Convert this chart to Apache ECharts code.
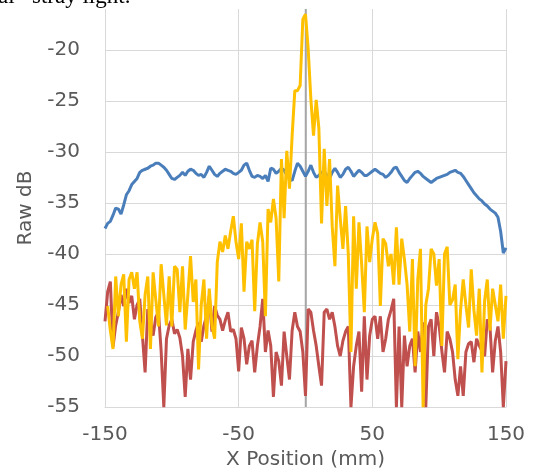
<!DOCTYPE html>
<html>
<head>
<meta charset="utf-8">
<script src="https://cdn.jsdelivr.net/npm/echarts@6/dist/echarts.min.js"></script>
<style>
html,body{margin:0;padding:0;background:#fff;}
#chart{width:539px;height:475px;}
</style>
</head>
<body>
<div id="chart"></div>
<script>
// Sampling grid of X positions (mm)
const X_START = -150;
const X_STEP = 2;

const xTickLabels = [-150, -50, 50, 150];
const yTickLabels = [-55, -50, -45, -40, -35, -30, -25, -20];

// Blue series (Raw dB)
const blueValues = [
-37.5,-37.0,-36.8,-36.2,-35.5,-35.6,-36.1,-35.2,-34.2,-33.8,
-33.2,-32.9,-32.6,-32.0,-31.8,-31.7,-31.6,-31.4,-31.3,-31.1,
-31.1,-31.3,-31.5,-31.8,-32.2,-32.6,-32.7,-32.5,-32.3,-32.0,
-32.3,-31.9,-31.7,-31.8,-32.1,-32.3,-32.2,-32.5,-32.0,-31.4,
-31.8,-32.2,-32.4,-32.1,-31.9,-31.7,-31.8,-31.9,-32.1,-32.2,
-32.0,-31.8,-31.3,-31.1,-31.8,-32.4,-32.5,-32.3,-32.4,-32.6,
-32.3,-32.9,-31.6,-31.7,-32.1,-31.9,-31.6,-31.8,-32.3,-32.6,
-32.8,-31.9,-31.1,-31.4,-31.9,-32.4,-31.9,-31.3,-32.0,-32.5,
-32.3,-32.0,-31.9,-32.3,-32.6,-32.0,-31.6,-32.0,-32.5,-32.2,
-31.7,-31.5,-31.9,-32.4,-32.1,-31.8,-32.0,-32.3,-32.3,-32.1,
-31.9,-31.7,-31.9,-32.1,-32.2,-32.5,-32.3,-32.0,-31.6,-31.5,
-32.0,-32.4,-32.8,-33.0,-32.6,-32.3,-32.0,-31.9,-32.1,-32.4,
-32.6,-32.8,-33.0,-32.8,-32.6,-32.5,-32.4,-32.3,-32.2,-32.0,
-31.9,-31.8,-32.0,-32.1,-32.4,-32.8,-33.2,-33.6,-34.0,-34.3,
-34.6,-34.8,-35.1,-35.3,-35.6,-35.8,-36.0,-36.4,-37.8,-39.9,
-39.4
];

// Yellow series (Raw dB)
const yellowValues = [
null,
-45.1,-47.5,-49.3,-42.2,-46.1,-43.0,-42.0,-48.6,-42.5,
-41.8,-43.4,-41.8,-46.6,-48.3,-44.0,-42.2,-49.3,-41.8,-44.5,
-47.1,-41.0,-44.0,-47.0,-42.2,-47.1,-41.2,-41.5,-45.7,-41.2,
-47.4,-44.0,-40.2,-44.7,-42.5,-51.3,-45.0,-42.5,-48.3,-43.4,
-47.0,-48.3,-40.8,-38.8,-39.8,-38.2,-39.5,-37.8,-36.3,-38.8,
-40.5,-37.0,-43.7,-38.8,-39.5,-38.6,-45.6,-39.0,-36.9,-38.8,
-46.1,-35.6,-36.9,-34.6,-36.5,-42.7,-30.7,-36.5,-29.9,-33.6,
-28.4,-24.0,-24.0,-23.5,-17.0,-16.5,-19.9,-24.8,-28.4,-24.9,
-27.7,-37.0,-29.7,-35.3,-30.7,-37.3,-41.2,-33.3,-36.5,-39.5,
-35.3,-40.0,-49.6,-36.3,-43.4,-36.9,-41.0,-45.7,-37.3,-40.8,
-38.5,-36.9,-38.0,-45.1,-38.5,-39.0,-41.2,-40.0,-43.0,-37.4,
-43.0,-38.5,-40.5,-43.0,-47.6,-40.5,-51.0,-42.5,-39.5,-55.0,
-45.0,-43.4,-39.5,-40.0,-43.1,-40.5,-49.0,-40.0,-39.3,-45.0,
-44.5,-43.0,-50.3,-45.5,-42.5,-45.0,-47.2,-41.5,-45.5,-48.0,
-43.4,-51.6,-44.6,-42.5,-47.5,-43.4,-45.0,-46.6,-43.0,-48.3,
-44.1
];

// Red series (Raw dB)
const redValues = [
-46.6,-43.7,-42.7,-49.1,-47.0,-45.7,-44.0,-45.1,-43.4,-44.8,
-44.1,-46.4,-45.0,-44.4,-48.0,-51.6,-45.4,-46.5,-48.0,-46.2,
-45.7,-49.5,-55.0,-48.3,-47.0,-46.4,-47.8,-47.4,-48.2,-50.0,
-54.0,-49.3,-52.3,-48.6,-47.5,-46.7,-48.6,-47.0,-46.1,-44.1,
-47.6,-45.1,-46.0,-46.4,-47.5,-46.5,-45.7,-47.6,-47.4,-48.3,
-51.5,-47.2,-48.3,-50.8,-49.0,-48.5,-51.6,-49.0,-47.1,-44.4,
-49.6,-47.5,-49.0,-54.0,-49.6,-50.5,-52.9,-47.6,-50.0,-52.3,
-47.5,-45.7,-47.1,-47.6,-49.6,-53.9,-45.4,-45.7,-47.5,-49.0,
-51.0,-52.9,-45.7,-45.4,-46.4,-45.7,-47.1,-49.0,-50.0,-48.5,
-47.6,-47.1,-55.0,-51.0,-49.0,-47.6,-53.5,-46.1,-52.3,-48.0,
-46.4,-46.1,-48.3,-46.1,-49.6,-48.3,-46.4,-45.5,-44.4,-55.0,
-47.1,-55.0,-48.0,-51.0,-49.0,-48.3,-51.6,-47.6,-49.6,-46.7,
-55.0,-47.1,-46.4,-50.0,-45.7,-47.1,-49.5,-51.6,-47.6,-48.3,
-49.6,-52.3,-53.9,-51.0,-53.9,-49.6,-48.8,-48.6,-50.6,-48.3,
-49.0,-49.5,-50.0,-46.4,-47.1,-51.6,-48.5,-47.1,-49.6,-55.0,
-50.5
];

// Vertical axis crossing position (mm)
const crossX = 0;

function pairs(vals){
  return vals.map((v,i)=>[X_START + i*X_STEP, v]);
}

const FONT = '"DejaVu Sans", "Noto Sans", sans-serif';
const TXT = '#595959';
const GRID = '#d9d9d9';
const ZERO = '#a6a6a6';
const SERIF = '23px "Liberation Serif", "DejaVu Serif", serif';

const chart = echarts.init(document.getElementById('chart'), null, {renderer:'canvas'});
const xMin = xTickLabels[0];
const xMax = xTickLabels[xTickLabels.length-1];
const yMin = yTickLabels[0];
const yMax = -16;

chart.setOption({
  animation:false,
  backgroundColor:'#ffffff',
  grid:{left:105, right:33, top:9, bottom:67, containLabel:false},
  graphic:[
    {type:'text', x:-2, y:-15, z:100,
     style:{text:'al', font:SERIF, fill:'#000', verticalAlign:'top'}},
    {type:'text', x:32, y:-15, z:100,
     style:{text:'stray light.', font:SERIF, fill:'#000', verticalAlign:'top'}}
  ],
  xAxis:[{
    type:'value', min:xMin, max:xMax, interval:100,
    name:'X Position (mm)', nameLocation:'middle', nameGap:41,
    nameTextStyle:{fontFamily:FONT, fontSize:20, color:TXT},
    axisLine:{show:true, lineStyle:{color:GRID, width:1}},
    axisTick:{show:false},
    axisLabel:{fontFamily:FONT, fontSize:20, color:TXT, margin:18},
    splitLine:{show:true, lineStyle:{color:GRID, width:1}}
  },{
    type:'value', min:xMin, max:xMax, interval:150, position:'bottom',
    axisLine:{show:false}, axisTick:{show:false}, axisLabel:{show:false},
    splitLine:{show:true, showMinLine:false, showMaxLine:false,
      lineStyle:{color:ZERO, width:1.5}}
  }],
  yAxis:{
    type:'value', min:yMin, max:yMax, interval:5,
    name:'Raw dB', nameLocation:'middle', nameGap:69,
    nameTextStyle:{fontFamily:FONT, fontSize:20, color:TXT},
    axisLine:{show:false},
    axisTick:{show:false},
    axisLabel:{fontFamily:FONT, fontSize:20, color:TXT, margin:25, showMaxLabel:false},
    splitLine:{show:true, showMaxLine:false, lineStyle:{color:GRID, width:1}}
  },
  series:[
    {type:'line', name:'zeroAxis', xAxisIndex:0, data:[[crossX, yMin],[crossX, yMax]],
     showSymbol:false, symbol:'none', silent:true,
     lineStyle:{color:ZERO, width:1.5}, itemStyle:{color:ZERO}, z:1},
    {type:'line', name:'blue', data:pairs(blueValues), showSymbol:false, symbol:'none', smooth:false,
     lineStyle:{color:'#4a7ebb', width:3}, itemStyle:{color:'#4a7ebb'}, z:2},
    {type:'line', name:'red', data:pairs(redValues), showSymbol:false, symbol:'none', smooth:false,
     lineStyle:{color:'#c0504d', width:3}, itemStyle:{color:'#c0504d'}, z:3},
    {type:'line', name:'yellow', data:pairs(yellowValues), showSymbol:false, symbol:'none', smooth:false,
     lineStyle:{color:'#ffc000', width:3}, itemStyle:{color:'#ffc000'}, z:4}
  ]
});
</script>
</body>
</html>
